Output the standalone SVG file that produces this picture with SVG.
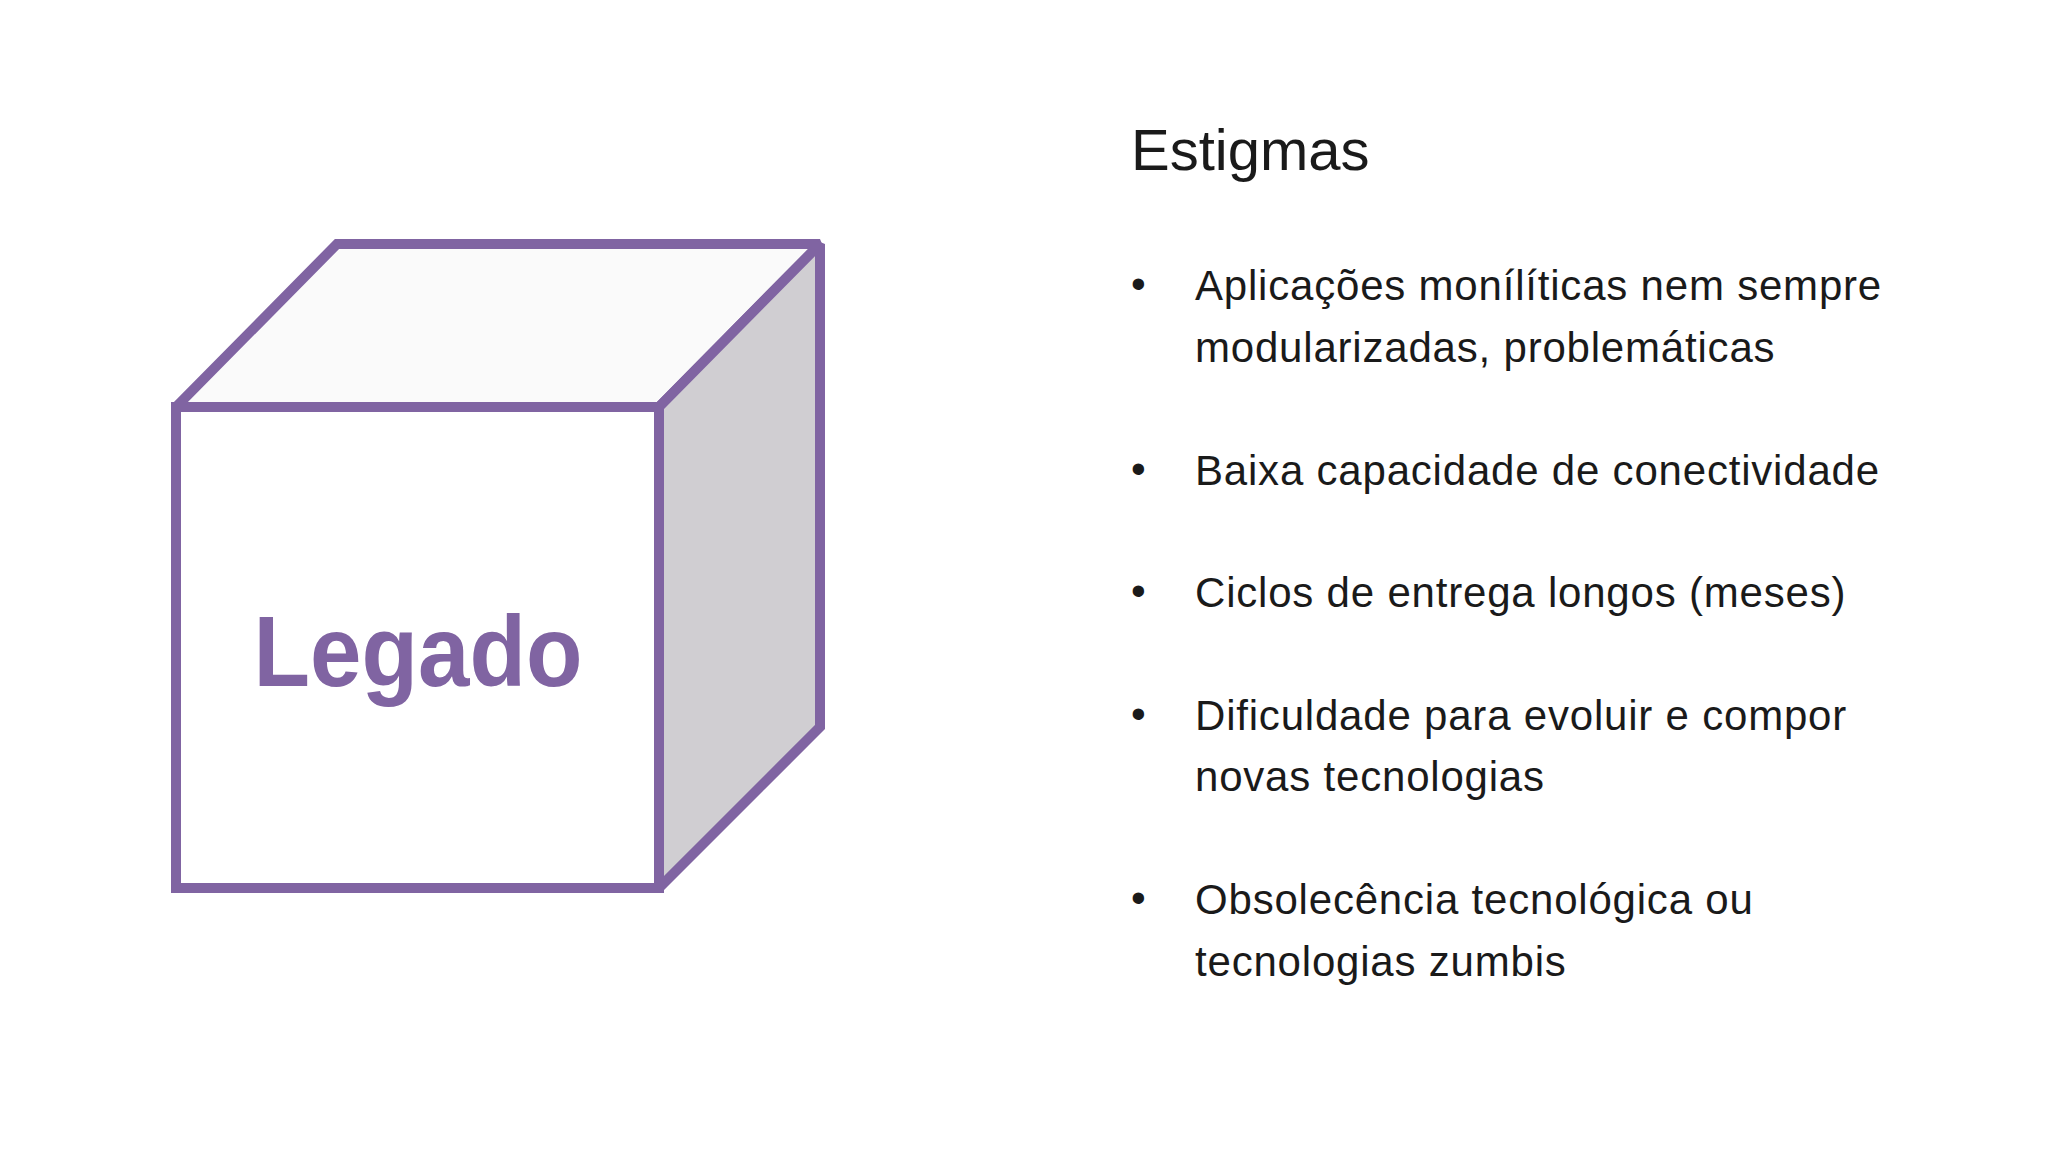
<svg xmlns="http://www.w3.org/2000/svg" width="2048" height="1152" viewBox="0 0 2048 1152">
<style>
.e{stroke:#8064A2;stroke-width:10;stroke-linejoin:miter;stroke-miterlimit:1.5}
.t{font-family:"Liberation Sans",Arial,sans-serif;font-size:42px;letter-spacing:0.8px;fill:#1a1a1a}
</style>
<rect width="2048" height="1152" fill="#ffffff"/>
<g id="cube">
<polygon class="e" points="176,407 337,244 820,244 659,407" fill="#fafafa"/>
<polygon class="e" points="659,407 820,244 820,727 659,888" fill="#d0ced2"/>
<rect class="e" x="176" y="407" width="483" height="481" fill="#ffffff"/>
<text x="418" y="686" text-anchor="middle" font-family="'Liberation Sans',Arial,sans-serif" font-weight="bold" font-size="100" fill="#8064A2" textLength="329" lengthAdjust="spacingAndGlyphs">Legado</text>
</g>
<g id="list">
<text x="1131" y="170" font-family="'Liberation Sans',Arial,sans-serif" font-size="58" fill="#1a1a1a">Estigmas</text>
<g class="t">
<text x="1131" y="298">•</text><text x="1195" y="300">Aplicações monílíticas nem sempre</text>
<text x="1195" y="362">modularizadas, problemáticas</text>
<text x="1131" y="483">•</text><text x="1195" y="485">Baixa capacidade de conectividade</text>
<text x="1131" y="605">•</text><text x="1195" y="607">Ciclos de entrega longos (meses)</text>
<text x="1131" y="728">•</text><text x="1195" y="730">Dificuldade para evoluir e compor</text>
<text x="1195" y="791">novas tecnologias</text>
<text x="1131" y="912">•</text><text x="1195" y="914">Obsolecência tecnológica ou</text>
<text x="1195" y="976">tecnologias zumbis</text>
</g>
</g>
</svg>
